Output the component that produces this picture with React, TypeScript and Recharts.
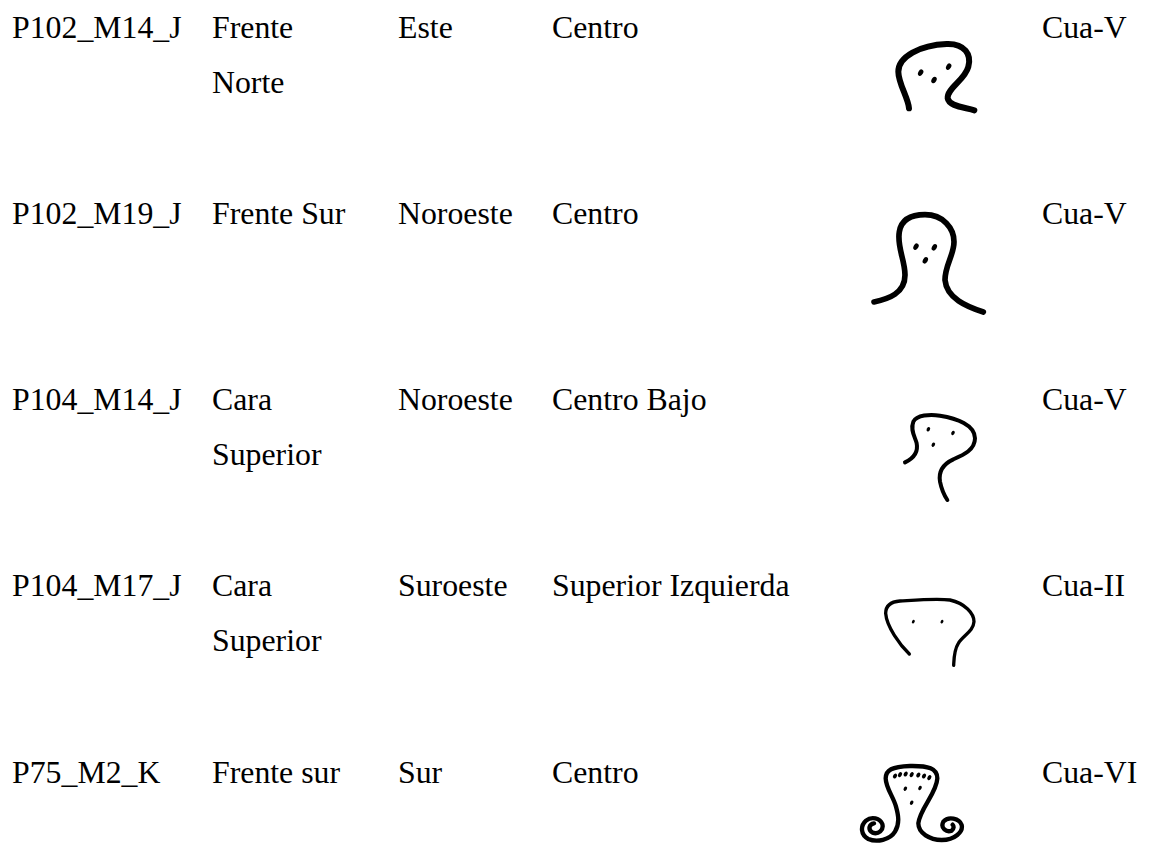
import { ScatterChart, Scatter, XAxis, YAxis } from 'recharts'

const WIDTH = 1149
const HEIGHT = 843

// table contents, one list per column
const pieces = ['P102_M14_J', 'P102_M19_J', 'P104_M14_J', 'P104_M17_J', 'P75_M2_K']
const faces = [['Frente', 'Norte'], ['Frente Sur'], ['Cara', 'Superior'], ['Cara', 'Superior'], ['Frente sur']]
const orientations = ['Este', 'Noroeste', 'Noroeste', 'Suroeste', 'Sur']
const placements = ['Centro', 'Centro', 'Centro Bajo', 'Superior Izquierda', 'Centro']
const glyphs = ['v1', 'v2', 'v3', 'ii', 'vi']
const types = ['Cua-V', 'Cua-V', 'Cua-V', 'Cua-II', 'Cua-VI']

// layout: x axis runs in page pixels, y axis in row numbers
const COLUMN_LEFT = { piece: 12, face: 212, orientation: 398, placement: 552, glyph: 850, type: 1042 }
const ROW_HEIGHT = 186.3
const FIRST_BASELINE = 37.5
const LINE_GAP = 55
const FONT = { fontFamily: '"Liberation Serif", serif', fontSize: 31.8, fill: '#000' }

// hand drawn signs, written in 3x units from the top left of each sign's box
const GLYPHS: Record<string, { dy: number; width: number; path: string; dots: [number, number, number][] }> = {
  v1: {
    dy: -7.5,
    width: 18,
    path: 'M177 235 C175 205 145 160 145 125 C145 80 210 45 290 42 C345 40 365 75 355 110 C345 150 290 175 293 205 C297 230 345 232 373 241',
    dots: [[212, 128, 9], [252, 150, 9], [296, 110, 9]],
  },
  v2: {
    dy: -23.8,
    width: 17,
    path: 'M72 306 C115 297 165 280 165 225 C165 180 140 140 148 95 C155 55 190 44 225 44 C280 44 312 85 312 125 C312 165 285 195 285 240 C290 295 350 320 400 336',
    dots: [[198, 140, 9], [253, 142, 9], [226, 181, 9]],
  },
  v3: {
    dy: -10.1,
    width: 12,
    path: 'M165 187 C190 175 205 155 200 130 C195 110 180 90 190 65 C200 45 240 42 270 47 C320 55 375 75 375 115 C375 150 340 165 310 178 C280 192 265 215 270 245 C274 265 282 285 292 300',
    dots: [[235, 88, 6], [309, 99, 6], [250, 134, 6]],
  },
  ii: {
    dy: -6.4,
    width: 10,
    path: 'M178 192 C150 165 110 110 107 70 C107 45 125 35 150 33 C200 30 260 25 300 30 C345 40 372 70 372 95 C370 125 340 135 325 160 C312 180 312 205 311 226',
    dots: [[190, 95, 5], [276, 95, 5]],
  },
  vi: {
    dy: -32.7,
    width: 13,
    path: 'M72 220 C58 222 52 238 68 248 C85 254 102 240 97 222 C90 205 65 198 48 212 C30 228 32 255 55 267 C80 278 120 270 135 245 C150 220 145 195 138 170 C130 140 108 115 107 85 C108 60 125 50 180 48 C235 47 262 55 262 85 C260 130 210 175 205 220 C205 250 240 270 275 270 C315 270 340 245 335 225 C328 205 295 198 280 215 C270 235 290 248 305 242 C312 236 312 228 308 224',
    dots: [[135, 78, 7], [150, 74, 7], [167, 72, 7], [185, 74, 7], [205, 75, 7], [222, 78, 7], [238, 83, 7], [166, 116, 6], [210, 114, 6], [185, 158, 6]],
  },
}

const TextCell = ({ cx, cy, payload }: any) => {
  const lines: string[] = [].concat(payload.label)
  return (
    <g>
      {lines.map((line, i) => (
        <text key={i} x={cx} y={cy + i * LINE_GAP} {...FONT}>{line}</text>
      ))}
    </g>
  )
}

const GlyphCell = ({ cx, cy, payload }: any) => {
  const g = GLYPHS[payload.label]
  return (
    <g transform={`translate(${cx} ${cy + g.dy}) scale(${1 / 3})`}>
      <path d={g.path} fill="none" stroke="#000" strokeWidth={g.width} strokeLinecap="round" strokeLinejoin="round" />
      {g.dots.map(([x, y, r], i) => (
        <ellipse key={i} cx={x} cy={y} rx={r * 0.8} ry={r * 1.15} transform={`rotate(30 ${x} ${y})`} fill="#000" />
      ))}
    </g>
  )
}

const column = (x: number, values: any[]) => values.map((label, row) => ({ x, row, label }))

const textColumns = [
  { x: COLUMN_LEFT.piece, values: pieces },
  { x: COLUMN_LEFT.face, values: faces },
  { x: COLUMN_LEFT.orientation, values: orientations },
  { x: COLUMN_LEFT.placement, values: placements },
  { x: COLUMN_LEFT.type, values: types },
]

export default function App() {
  return (
    <div style={{ position: 'absolute', left: 0, top: 0, width: WIDTH, height: HEIGHT, background: '#fff' }}>
      <ScatterChart width={WIDTH} height={HEIGHT} margin={{ top: 0, right: 0, bottom: 0, left: 0 }}>
        <XAxis type="number" dataKey="x" domain={[0, WIDTH]} hide />
        <YAxis
          type="number"
          dataKey="row"
          reversed
          domain={[-FIRST_BASELINE / ROW_HEIGHT, (HEIGHT - FIRST_BASELINE) / ROW_HEIGHT]}
          hide
        />
        {textColumns.map((c) => (
          <Scatter key={c.x} data={column(c.x, c.values)} shape={TextCell} isAnimationActive={false} />
        ))}
        <Scatter data={column(COLUMN_LEFT.glyph, glyphs)} shape={GlyphCell} isAnimationActive={false} />
      </ScatterChart>
    </div>
  )
}
